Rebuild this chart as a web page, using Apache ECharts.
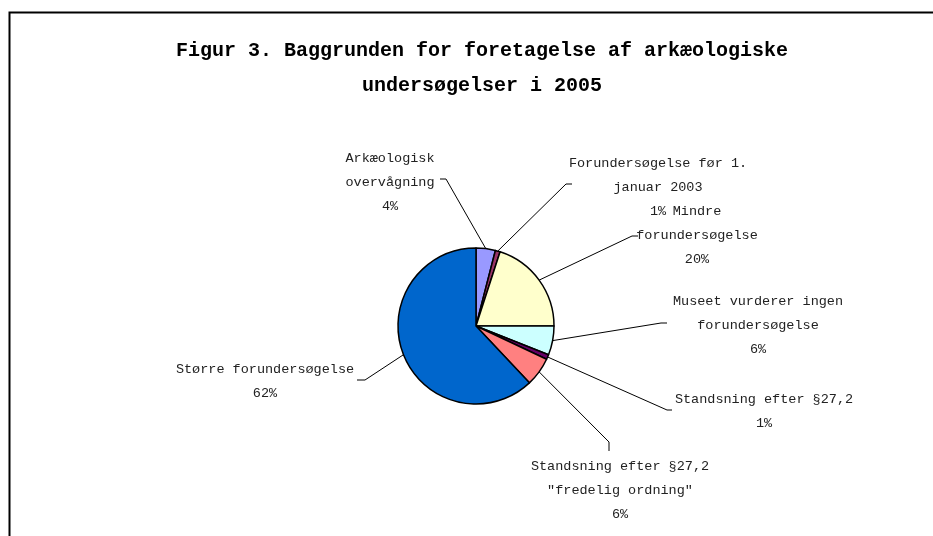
<!DOCTYPE html>
<html>
<head>
<meta charset="utf-8">
<script src="https://cdn.jsdelivr.net/npm/echarts@6/dist/echarts.min.js"></script>
<style>
html,body{margin:0;padding:0;background:#fff;}
#chart{width:933px;height:536px;}
</style>
</head>
<body>
<div id="chart"></div>
<script>
// ---- data ----
var categories = [
  'Arkæologisk\novervågning',
  'Forundersøgelse før 1.\njanuar 2003',
  'Mindre\nforundersøgelse',
  'Museet vurderer ingen\nforundersøgelse',
  'Standsning efter §27,2',
  'Standsning efter §27,2\n"fredelig ordning"',
  'Større forundersøgelse'
];
var values = [4, 1, 20, 6, 1, 6, 62];
var colors = ['#9999FF', '#993366', '#FFFFCC', '#CCFFFF', '#660066', '#FF8080', '#0066CC'];
var titleText = 'Figur 3. Baggrunden for foretagelse af arkæologiske\nundersøgelser i 2005';

// ---- label layout (label centre, elbow point, line end) ----
var labelPlace = [
  {x: 390, y: 182, elbow: [446, 179], end: [440, 179]},
  {x: 658, y: 187, elbow: [566, 184], end: [572, 184]},
  {x: 697, y: 235, elbow: [632, 236], end: [638, 236]},
  {x: 758, y: 325, elbow: [661, 323], end: [667, 323]},
  {x: 764, y: 411, elbow: [667, 410], end: [672, 410]},
  {x: 620, y: 490, elbow: [609, 442], end: [609, 451]},
  {x: 265, y: 381, elbow: [365, 380], end: [357, 380]}
];

var pieData = categories.map(function (c, i) {
  return {name: c, value: values[i], itemStyle: {color: colors[i]}};
});

var chart = echarts.init(document.getElementById('chart'), null, {renderer: 'canvas'});
var option = {
  backgroundColor: '#fff',
  animation: false,
  title: {
    text: titleText,
    left: 477,
    top: 28,
    textAlign: 'center',
    textStyle: {
      fontFamily: 'Liberation Mono',
      fontWeight: 'bold',
      fontSize: 20,
      lineHeight: 35,
      color: '#000'
    }
  },
  graphic: [{
    type: 'rect',
    left: 7,
    top: 10,
    shape: {width: 1000, height: 1000},
    style: {fill: 'none', stroke: '#000', lineWidth: 2}
  }],
  series: [{
    type: 'pie',
    center: [476, 326],
    radius: 78,
    startAngle: 90,
    clockwise: true,
    avoidLabelOverlap: false,
    data: pieData,
    itemStyle: {borderColor: '#000', borderWidth: 1.5},
    label: {
      show: true,
      position: 'outside',
      formatter: '{b}\n{c}%',
      fontFamily: 'Liberation Mono',
      fontSize: 13.5,
      lineHeight: 24,
      color: '#222',
      align: 'center'
    },
    labelLine: {
      show: true,
      length: 20,
      length2: 10,
      smooth: false,
      lineStyle: {color: '#000', width: 1}
    },
    emphasis: {disabled: true},
    labelLayout: function (params) {
      var p = labelPlace[params.dataIndex];
      var start = (params.labelLinePoints && params.labelLinePoints[0]) || p.elbow;
      return {
        x: p.x,
        y: p.y,
        align: 'center',
        verticalAlign: 'middle',
        labelLinePoints: [start, p.elbow, p.end]
      };
    }
  }]
};
chart.setOption(option);
</script>
</body>
</html>
